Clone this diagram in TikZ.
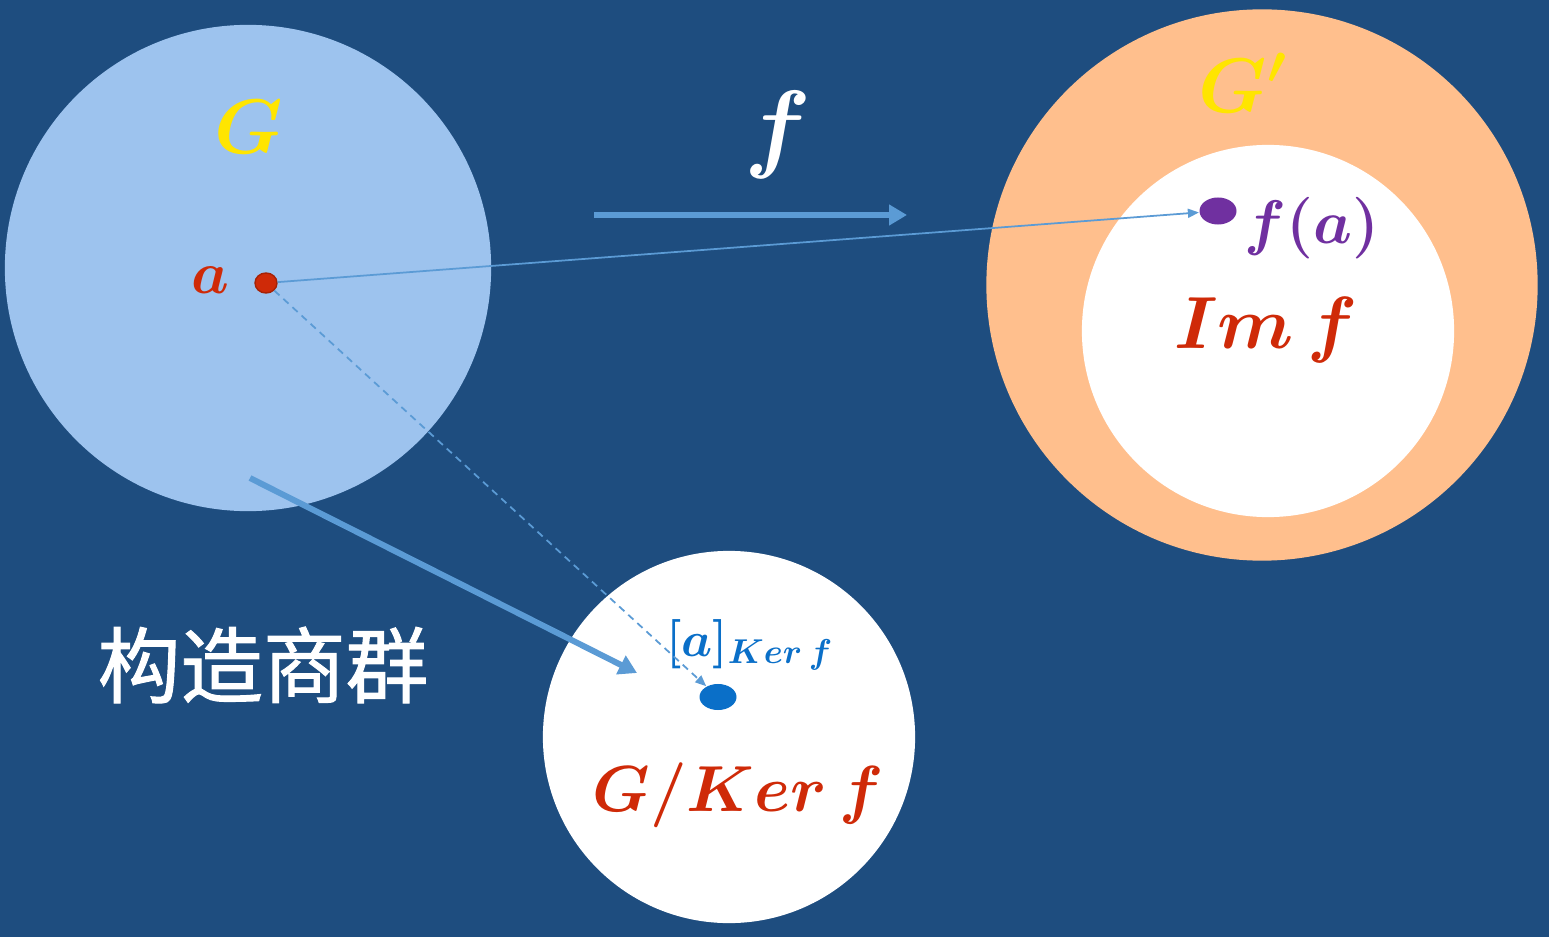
\RequirePackage{fix-cm}
\documentclass[tikz,border=0pt]{standalone}
\usepackage{amsmath}
\usepackage{fontspec}
\newfontfamily\cjk[FakeBold=1.2]{Noto Sans CJK SC}
\usetikzlibrary{arrows.meta,shapes.geometric}

\definecolor{achtergrond}{HTML}{1E4D7F}
\definecolor{lichtblauw}{HTML}{9DC3EE}
\definecolor{oranje}{HTML}{FFBF8D}
\definecolor{pijlblauw}{HTML}{5B9BD5}
\definecolor{rood}{HTML}{CF2A08}
\definecolor{geel}{HTML}{FFE500}
\definecolor{paars}{HTML}{7030A0}
\definecolor{blauw}{HTML}{0A6FC8}

\begin{document}
\begin{tikzpicture}[x=0.01cm, y=-0.01cm]
\tikzstyle{groep} = [circle, draw=none, inner sep=0pt]
\tikzstyle{punt} = [ellipse, inner sep=0pt]
\tikzstyle{label} = [inner sep=0pt, font=\boldmath]
\tikzstyle{pijl} = [pijlblauw, line width=1.7pt, -{Triangle[length=0.18cm, width=0.2cm]}]
\tikzstyle{dunpijl} = [pijlblauw, line width=0.5pt, -{Triangle[length=0.11cm, width=0.09cm]}]

\fill [achtergrond] (0,0) rectangle (1549,937);
\useasboundingbox (0,0) rectangle (1549,937);

% groepen
\node [groep, fill=lichtblauw, minimum size=4.86cm] (G) at (248,268) {};
\node [groep, fill=oranje, minimum size=5.51cm] (Gp) at (1262,285) {};
\node [groep, fill=white, minimum size=3.72cm] (Im) at (1268,331) {};
\node [groep, fill=white, minimum size=3.72cm] (quot) at (729,737) {};

% teksten
\node [label, text=geel, font=\fontsize{22}{26}\selectfont\boldmath] (Glabel) at (249,127) {$G$};
\node [label, text=geel, font=\fontsize{22}{26}\selectfont\boldmath] (Gplabel) at (1243,83) {$G'$};
\node [label, text=white, font=\fontsize{28}{32}\selectfont\boldmath] (flabel) at (778,135) {$f$};
\node [label, text=rood, font=\fontsize{17}{20}\selectfont\boldmath] (alabel) at (210,280) {$a$};
\node [label, text=paars, font=\fontsize{17.5}{21}\selectfont\boldmath] (falabel) at (1312,228) {$f(a)$};
\node [label, text=rood, font=\fontsize{21}{25}\selectfont\boldmath] (Imlabel) at (1266,330) {$Im\,f$};
\node [label, text=blauw, font=\fontsize{14}{17}\selectfont\boldmath] (klasse) at (750,645) {$[a]_{Ker\,f}$};
\node [label, text=rood, font=\fontsize{18.5}{22}\selectfont\boldmath] (quotlabel) at (738,795) {$G/Ker\,f$};
\node [inner sep=0pt, text=white, font=\fontsize{23.5}{28}\selectfont\cjk] (bouw) at (263,665) {构造商群};

% punten
\node [punt, fill=rood, draw=rood!80!black, minimum width=0.22cm, minimum height=0.2cm] (pa) at (266,283) {};
\node [punt, fill=paars, minimum width=0.37cm, minimum height=0.27cm] (pfa) at (1218,211) {};
\node [punt, fill=blauw, minimum width=0.37cm, minimum height=0.26cm] (pka) at (718,697) {};

% pijlen
\coordinate (fbegin) at (594,215);
\coordinate (feind) at (907,215);
\draw [pijl] (fbegin) -- (feind);

\coordinate (qbegin) at (250,478);
\coordinate (qeind) at (637,673);
\draw [pijl] (qbegin) -- (qeind);

\draw [dunpijl] (pa) -- (pfa);
\draw [dunpijl, dash pattern=on 2pt off 1.5pt] (pa) -- (pka);

\end{tikzpicture}
\end{document}
